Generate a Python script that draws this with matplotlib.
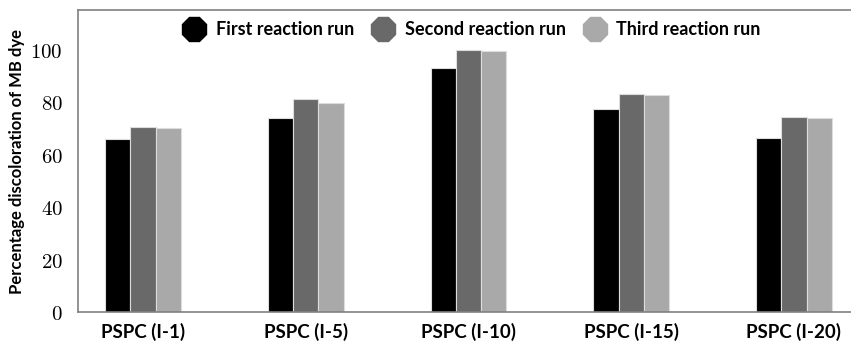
import numpy as np
import matplotlib.pyplot as plt

plt.rcParams['mathtext.fontset'] = 'cm'
plt.rcParams['font.family'] = ['Lato', 'DejaVu Sans']

samples = ['PSPC (I-1)', 'PSPC (I-5)', 'PSPC (I-10)', 'PSPC (I-15)', 'PSPC (I-20)']
first_run = [65.9, 74.2, 93.0, 77.4, 66.4]
second_run = [70.6, 81.2, 100.2, 83.1, 74.3]
third_run = [70.1, 79.7, 99.6, 82.7, 74.0]
run_names = ['First reaction run', 'Second reaction run', 'Third reaction run']
y_ticks = [0, 20, 40, 60, 80, 100]

colors = ['black', '#696969', '#a9a9a9']

fig = plt.figure(figsize=(8.51, 3.43), dpi=100)
ax = fig.add_axes([78/851, 31/343, 781/851, 302/343])

x = np.arange(len(samples))
w = 0.155
for i, (vals, c) in enumerate(zip([first_run, second_run, third_run], colors)):
    ax.bar(x + (i-1)*w, vals, w, color=c, edgecolor='#dddddd', linewidth=0.8)

ax.set_xlim(-0.4, len(samples)-0.6)
ax.set_ylim(0, 115.3)
ax.set_yticks(y_ticks)
ax.set_yticklabels(['$%d$' % t for t in y_ticks], fontsize=15)
ax.set_xticks(x)
ax.set_xticklabels(samples, fontsize=13.5, fontweight='bold')
ax.tick_params(axis='y', length=0, pad=11)
ax.tick_params(axis='x', length=0, pad=8)
ax.set_ylabel('Percentage discoloration of MB dye', fontsize=12, fontweight='bold')

for s in ['left', 'top', 'bottom', 'right']:
    ax.spines[s].set_color('#808080')
    ax.spines[s].set_linewidth(1.2)

handles = [plt.Line2D([], [], marker='8', linestyle='none', markersize=19, color=c) for c in colors]
ax.legend(handles, run_names, loc='upper center', ncol=3, frameon=False,
          prop={'weight': 'bold', 'size': 13}, handletextpad=0.2, columnspacing=0.6,
          borderaxespad=0.2, bbox_to_anchor=(0.5, 1.0))

fig.savefig('out.png', dpi=100)
